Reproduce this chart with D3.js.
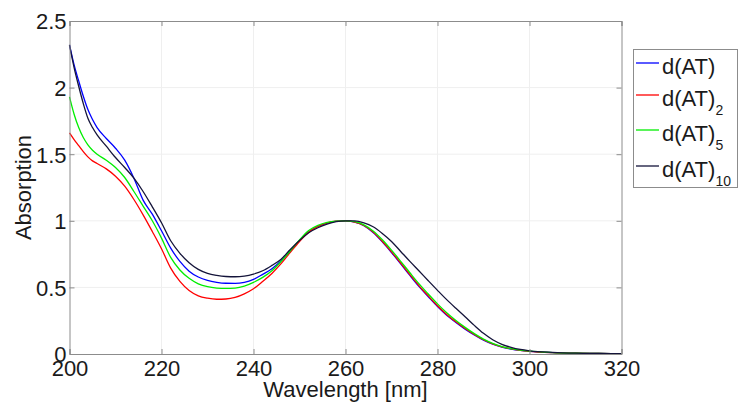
<!DOCTYPE html>
<html>
<head>
<meta charset="utf-8">
<script src="https://cdn.jsdelivr.net/npm/d3@7"></script>
<style>
    body { margin: 0; background: #ffffff; }
    svg { display: block; font-family: "Liberation Sans", Arial, sans-serif; }
</style>
</head>
<body>
<div id="chart"></div>
<script>
// ===== UV absorption spectra of d(AT)n =====
// wavelength grid (nm) and the four normalised spectra

const wavelengths = [200, 201, 202, 203, 204, 205, 206, 208, 210, 212, 214, 216, 218, 220, 222, 224, 226, 228, 230, 232,
    234, 236, 238, 240, 242, 244, 246, 248, 250, 252, 254, 256, 258, 260, 262, 264, 266, 268, 270, 272,
    274, 276, 278, 280, 282, 284, 286, 288, 290, 292, 294, 296, 298, 300, 305, 310, 315, 320];

const absAT1 = [2.32, 2.17, 2.05, 1.935, 1.835, 1.76, 1.70, 1.618, 1.545, 1.455, 1.32, 1.155, 1.05, 0.925, 0.795, 0.695, 0.622, 0.578, 0.552, 0.538,
    0.531, 0.530, 0.538, 0.560, 0.598, 0.640, 0.700, 0.772, 0.850, 0.915, 0.957, 0.982, 0.997, 1.000, 0.990, 0.963, 0.912, 0.842, 0.762, 0.677,
    0.590, 0.506, 0.430, 0.356, 0.291, 0.237, 0.187, 0.143, 0.104, 0.074, 0.052, 0.037, 0.027, 0.020, 0.010, 0.006, 0.004, 0.003];

const absAT2 = [1.66, 1.61, 1.565, 1.52, 1.48, 1.45, 1.43, 1.39, 1.335, 1.26, 1.16, 1.045, 0.92, 0.79, 0.645, 0.545, 0.477, 0.437, 0.419, 0.411,
    0.413, 0.425, 0.452, 0.490, 0.545, 0.605, 0.678, 0.763, 0.845, 0.915, 0.958, 0.985, 0.998, 1.000, 0.990, 0.965, 0.915, 0.846, 0.767, 0.683,
    0.596, 0.512, 0.436, 0.362, 0.297, 0.242, 0.192, 0.147, 0.107, 0.076, 0.054, 0.039, 0.028, 0.020, 0.010, 0.006, 0.004, 0.003];

const absAT5 = [1.93, 1.80, 1.70, 1.625, 1.57, 1.53, 1.50, 1.455, 1.40, 1.325, 1.22, 1.11, 1.00, 0.87, 0.725, 0.631, 0.568, 0.527, 0.505, 0.495,
    0.492, 0.495, 0.510, 0.538, 0.575, 0.625, 0.695, 0.775, 0.857, 0.927, 0.966, 0.988, 0.998, 1.000, 0.993, 0.970, 0.924, 0.858, 0.780, 0.696,
    0.610, 0.526, 0.450, 0.376, 0.310, 0.252, 0.200, 0.153, 0.112, 0.080, 0.056, 0.040, 0.029, 0.021, 0.011, 0.006, 0.004, 0.003];

const absAT10 = [2.32, 2.15, 2.01, 1.88, 1.77, 1.70, 1.645, 1.56, 1.475, 1.40, 1.32, 1.22, 1.105, 0.985, 0.85, 0.756, 0.685, 0.635, 0.605, 0.590,
    0.582, 0.580, 0.585, 0.600, 0.625, 0.665, 0.712, 0.785, 0.852, 0.910, 0.948, 0.975, 0.993, 0.999, 0.999, 0.985, 0.955, 0.905, 0.845, 0.770,
    0.695, 0.623, 0.550, 0.478, 0.408, 0.343, 0.280, 0.215, 0.155, 0.107, 0.073, 0.050, 0.034, 0.024, 0.012, 0.006, 0.004, 0.003];

const xTicks = [200, 220, 240, 260, 280, 300, 320];
const yTicks = [0, 0.5, 1, 1.5, 2, 2.5];

// series: base label, subscript, colour
const series = [
    { name: 'd(AT)', sub: '',   color: '#0000ff', values: absAT1 },
    { name: 'd(AT)', sub: '2',  color: '#ff0000', values: absAT2 },
    { name: 'd(AT)', sub: '5',  color: '#00ee00', values: absAT5 },
    { name: 'd(AT)', sub: '10', color: '#14143a', values: absAT10 }
];

const width = 741, height = 405;
const plot = { left: 69.5, right: 621.5, top: 21, bottom: 354 };
const axisColor = '#8c8c8c';
const textColor = '#1a1a1a';

const svg = d3.select('#chart').append('svg')
    .attr('width', width)
    .attr('height', height);

const x = d3.scaleLinear().domain([200, 320]).range([plot.left, plot.right]);
const y = d3.scaleLinear().domain([0, 2.5]).range([plot.bottom, plot.top]);

// grid lines (very faint, like the matlab grid)
const grid = svg.append('g').attr('class', 'grid');
grid.selectAll('.gx').data(xTicks.slice(1, -1)).enter().append('line')
    .attr('x1', d => x(d)).attr('x2', d => x(d))
    .attr('y1', plot.top).attr('y2', plot.bottom)
    .attr('stroke', '#efefef').attr('stroke-width', 1);
grid.selectAll('.gy').data(yTicks.slice(1, -1)).enter().append('line')
    .attr('x1', plot.left).attr('x2', plot.right)
    .attr('y1', d => y(d)).attr('y2', d => y(d))
    .attr('stroke', '#efefef').attr('stroke-width', 1);

// curves
const line = d3.line()
    .x((d, i) => x(wavelengths[i]))
    .y(d => y(d))
    .curve(d3.curveMonotoneX);

const plotArea = svg.append('g').attr('class', 'curves');
series.forEach(s => {
    plotArea.append('path')
        .datum(s.values)
        .attr('d', line)
        .attr('fill', 'none')
        .attr('stroke', s.color)
        .attr('stroke-width', 1.3);
});

// axes: ticks point inward on all four sides, labels only bottom/left
const tickLen = 5;
const bottomAxis = d3.axisBottom(x).tickValues(xTicks).tickSize(-tickLen).tickPadding(6).tickFormat(d3.format('d'));
const topAxis = d3.axisTop(x).tickValues(xTicks).tickSize(-tickLen).tickFormat('');
const leftAxis = d3.axisLeft(y).tickValues(yTicks).tickSize(-tickLen).tickPadding(3).tickFormat(d3.format('~g'));
const rightAxis = d3.axisRight(y).tickValues(yTicks).tickSize(-tickLen).tickFormat('');

function styleAxis(g) {
    g.select('.domain').attr('stroke', axisColor);
    g.selectAll('.tick line').attr('stroke', axisColor);
    g.selectAll('.tick text')
        .attr('fill', textColor)
        .style('font-size', '22px')
        .style('font-family', '"Liberation Sans", Arial, sans-serif');
}

svg.append('g').attr('transform', `translate(0,${plot.bottom})`).call(bottomAxis).call(styleAxis)
    .selectAll('.tick text').attr('dy', '0.72em');
svg.append('g').attr('transform', `translate(0,${plot.top})`).call(topAxis).call(styleAxis);
svg.append('g').attr('transform', `translate(${plot.left},0)`).call(leftAxis).call(styleAxis)
    .selectAll('.tick text').attr('dy', '0.36em');
svg.append('g').attr('transform', `translate(${plot.right},0)`).call(rightAxis).call(styleAxis);

// axis titles
svg.append('text')
    .attr('x', (plot.left + plot.right) / 2)
    .attr('y', 397)
    .attr('text-anchor', 'middle')
    .attr('fill', textColor)
    .style('font-size', '22px')
    .text('Wavelength [nm]');

svg.append('text')
    .attr('transform', `translate(31,${(plot.top + plot.bottom) / 2}) rotate(-90)`)
    .attr('text-anchor', 'middle')
    .attr('fill', textColor)
    .style('font-size', '22px')
    .text('Absorption');

// legend box
const legend = svg.append('g').attr('class', 'legend');
legend.append('rect')
    .attr('x', 633.5).attr('y', 49.5)
    .attr('width', 104).attr('height', 138)
    .attr('fill', '#ffffff')
    .attr('stroke', axisColor);

const legendRows = [63, 95, 130, 166]; // y of each sample line
series.forEach((s, i) => {
    const ly = legendRows[i];
    legend.append('line')
        .attr('x1', 636).attr('x2', 659)
        .attr('y1', ly).attr('y2', ly)
        .attr('stroke', s.color)
        .attr('stroke-width', 1.3);
    const t = legend.append('text')
        .attr('x', 662).attr('y', ly + 11)
        .attr('fill', textColor)
        .style('font-size', '22px');
    t.append('tspan').text(s.name);
    if (s.sub) {
        t.append('tspan')
            .attr('dy', 9)
            .style('font-size', '14px')
            .text(s.sub);
    }
});
</script>
</body>
</html>
